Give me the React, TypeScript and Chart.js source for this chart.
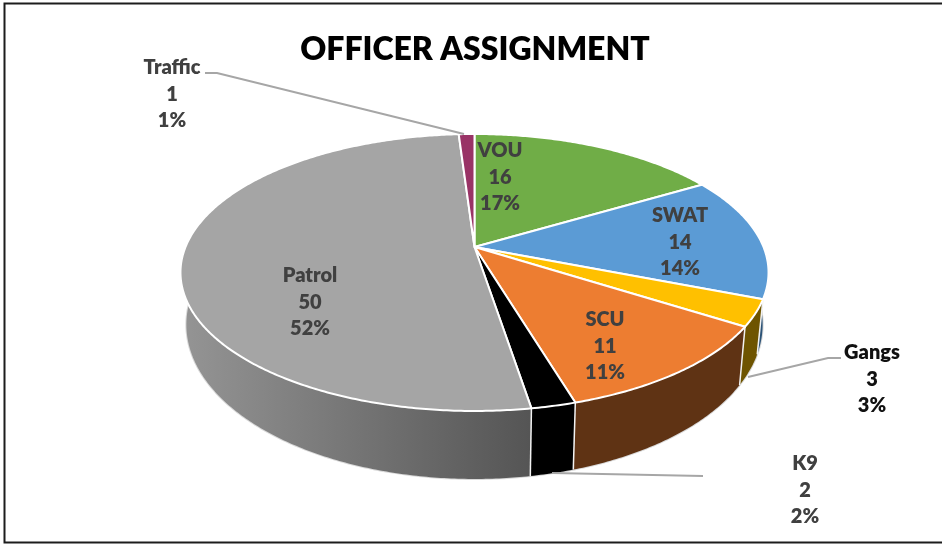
import React, { useEffect, useRef } from "react";
import { Chart, registerables } from "chart.js";

Chart.register(...registerables);

const categories = ["VOU", "SWAT", "Gangs", "SCU", "K9", "Patrol", "Traffic"];
const officers = [16, 14, 3, 11, 2, 50, 1];
const shareLabels = ["17%", "14%", "3%", "11%", "2%", "52%", "1%"];
const chartTitle = "OFFICER ASSIGNMENT";

const topColors = ["#70ad47", "#5b9bd5", "#ffc000", "#ed7d31", "#000000", "#a5a5a5", "#993366"];
const sideColors = ["#43682b", "#2c5377", "#6e5400", "#5f3314", "#000000", "#6a6a6a", "#5c1f3e"];
const labelColors = ["#404040", "#404040", "#111111", "#404040", "#404040", "#404040", "#404040"];
const labelX = [500, 680, 872, 605, 805, 310, 172];
const labelY = [151, 216, 353, 320, 464, 276, 68];
const leaders: (number[][] | null)[] = [
  null, null,
  [[841, 358], [828, 358], [748, 377]],
  null,
  [[703, 476], [552, 473]],
  null,
  [[205, 73], [217, 73], [464, 134]],
];

const CX = 474.5, CY = 247, RX = 289, AY = 133.8, K = -0.184;
const project = (a: number) => {
  const u = Math.cos(a), v = Math.sin(a), d = 1 + K * v;
  return [CX + (RX * u) / d, CY + (AY * v) / d];
};
const lower = (p: number[]) => [CX + (p[0] - CX) * 0.98, p[1] + 55 + (p[1] - 298) * 0.115];
const arcPoints = (s: number, e: number) => {
  const n = Math.max(2, Math.ceil((e - s) / 0.01));
  const pts: number[][] = [];
  for (let i = 0; i <= n; i++) pts.push(project(s + ((e - s) * i) / n));
  return pts;
};
const trace = (ctx: CanvasRenderingContext2D, pts: number[][], first = true) => {
  pts.forEach((p, i) => (i === 0 && first ? ctx.moveTo(p[0], p[1]) : ctx.lineTo(p[0], p[1])));
};

const pie3d = {
  id: "pie3d",
  beforeDraw(chart: any) {
    const { ctx, width, height } = chart;
    ctx.save();
    ctx.fillStyle = "#ffffff";
    ctx.fillRect(0, 0, width, height);
    ctx.strokeStyle = "#1c1c1c";
    ctx.lineWidth = 2;
    ctx.beginPath();
    ctx.moveTo(width, 3.5);
    ctx.lineTo(4.5, 3.5);
    ctx.lineTo(4.5, 542.5);
    ctx.lineTo(width, 542.5);
    ctx.stroke();
    ctx.restore();
  },
  beforeDatasetDraw(chart: any) {
    const ctx: CanvasRenderingContext2D = chart.ctx;
    const arcs = chart.getDatasetMeta(0).data;
    ctx.save();
    ctx.lineJoin = "round";

    const all = arcPoints(0, Math.PI).map(lower);
    ctx.beginPath();
    trace(ctx, all);
    ctx.strokeStyle = "#d9d9d9";
    ctx.lineWidth = 2;
    ctx.stroke();

    arcs.forEach((arc: any, i: number) => {
      const top = arcPoints(arc.startAngle, arc.endAngle);
      const bot = top.map(lower);
      ctx.beginPath();
      for (let k = 0; k < top.length - 1; k++) {
        ctx.moveTo(top[k][0], top[k][1]);
        ctx.lineTo(top[k + 1][0], top[k + 1][1]);
        ctx.lineTo(bot[k + 1][0], bot[k + 1][1]);
        ctx.lineTo(bot[k][0], bot[k][1]);
        ctx.closePath();
      }
      if (categories[i] === "Patrol") {
        const g = ctx.createLinearGradient(185, 0, 530, 0);
        g.addColorStop(0, "#949494");
        g.addColorStop(1, "#555555");
        ctx.fillStyle = g;
      } else {
        ctx.fillStyle = sideColors[i];
      }
      ctx.fill();
    });
    arcs.forEach((arc: any) => {
      const p = project(arc.startAngle);
      if (Math.sin(arc.startAngle) < 0) return;
      const q = lower(p);
      ctx.beginPath();
      ctx.moveTo(p[0], p[1]);
      ctx.lineTo(q[0], q[1]);
      ctx.strokeStyle = "#f2f2f2";
      ctx.lineWidth = 1.5;
      ctx.stroke();
    });

    arcs.forEach((arc: any, i: number) => {
      ctx.beginPath();
      ctx.moveTo(CX, CY);
      trace(ctx, arcPoints(arc.startAngle, arc.endAngle), false);
      ctx.closePath();
      ctx.fillStyle = topColors[i];
      ctx.fill();
      ctx.strokeStyle = "#ffffff";
      ctx.lineWidth = 2;
      ctx.stroke();
    });
    ctx.restore();
    return false;
  },
  afterDatasetsDraw(chart: any) {
    const ctx: CanvasRenderingContext2D = chart.ctx;
    ctx.save();
    ctx.strokeStyle = "#a6a6a6";
    ctx.lineWidth = 2;
    leaders.forEach((l) => {
      if (!l) return;
      ctx.beginPath();
      trace(ctx, l);
      ctx.stroke();
    });
    ctx.font = "800 20px Lato";
    ctx.textAlign = "center";
    ctx.textBaseline = "middle";
    categories.forEach((name, i) => {
      ctx.fillStyle = labelColors[i];
      const lines = [name, String(officers[i]), shareLabels[i]];
      lines.forEach((t, j) => ctx.fillText(t, labelX[i], labelY[i] + j * 26.3));
    });
    ctx.restore();
  },
};

export default function App() {
  const ref = useRef<HTMLCanvasElement>(null);
  useEffect(() => {
    document.body.style.margin = "0";
    const chart = new Chart(ref.current!, {
      type: "pie",
      data: {
        labels: categories,
        datasets: [{ data: officers, backgroundColor: topColors }],
      },
      options: {
        responsive: false,
        animation: false,
        layout: { padding: { left: 8 } },
        plugins: {
          legend: { display: false },
          tooltip: { enabled: false },
          title: {
            display: true,
            text: chartTitle,
            color: "#000000",
            font: { family: "Lato", size: 32, weight: "800" },
            padding: { top: 30, bottom: 10 },
          },
        },
      },
      plugins: [pie3d],
    });
    return () => chart.destroy();
  }, []);
  return <canvas ref={ref} width={942} height={545} style={{ display: "block" }} />;
}
